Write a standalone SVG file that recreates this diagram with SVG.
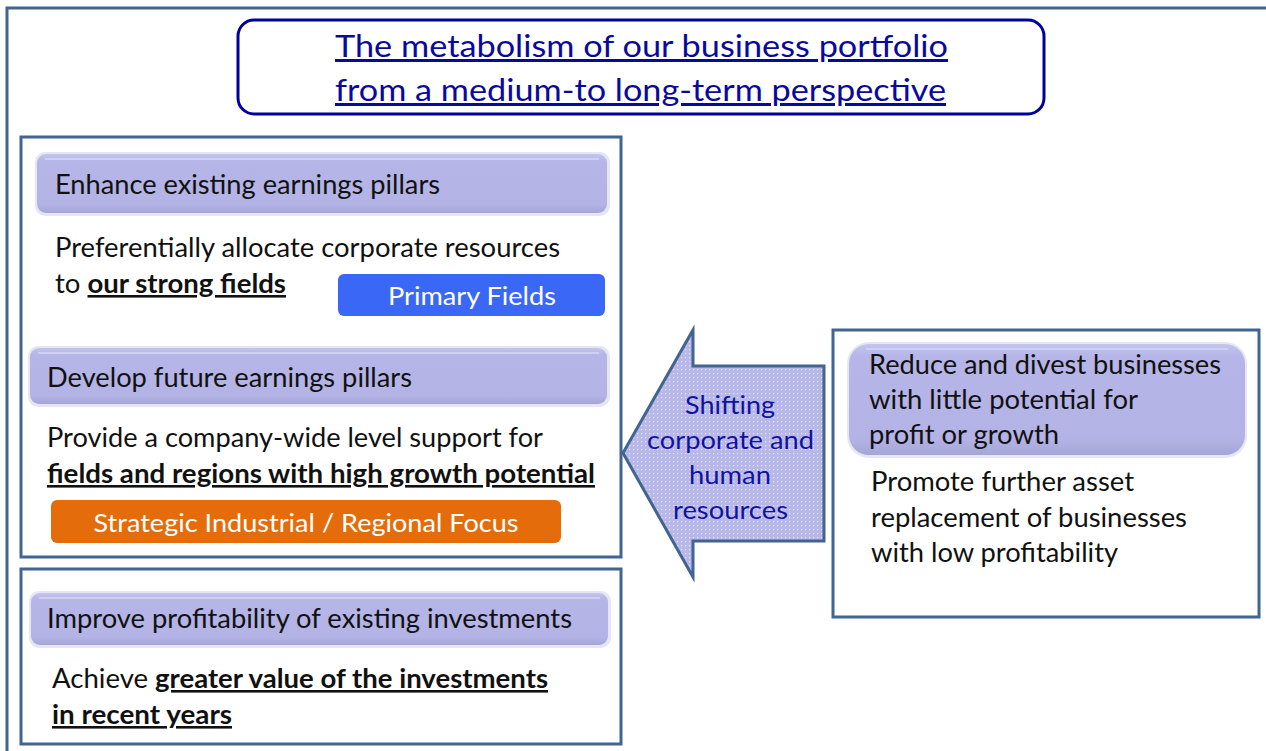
<svg xmlns="http://www.w3.org/2000/svg" width="1266" height="751" viewBox="0 0 1266 751">
<style>
text{font-family:"Lato","Liberation Sans",sans-serif;}
.box{fill:#fff;stroke:#41658F;stroke-width:3;}
.t{font-size:26px;fill:#111;}
.b{font-weight:bold;text-decoration:underline;}
.title{font-size:30px;fill:#0A0A9A;text-decoration:underline;}
.arr{font-size:25.5px;fill:#12129E;text-anchor:middle;}
.wt{font-size:25px;fill:#fff;text-anchor:middle;}
.glow{fill:#DADAF2;opacity:0.7;}
.bar{fill:url(#barg);}
.hl{fill:none;stroke:#CFCFF3;stroke-width:2;}
</style>
<defs>
<linearGradient id="barg" x1="0" y1="0" x2="0" y2="1">
<stop offset="0" stop-color="#C4C4EE"/>
<stop offset="0.12" stop-color="#B5B5E7"/>
<stop offset="0.85" stop-color="#B3B3E5"/>
<stop offset="1" stop-color="#A5A5D6"/>
</linearGradient>
<pattern id="dots" width="4" height="4" patternUnits="userSpaceOnUse">
<rect width="4" height="4" fill="#B8B8E8"/>
<rect x="1" y="1" width="1.2" height="1.2" fill="#E6E6FA"/>
</pattern>
</defs>
<rect width="1266" height="751" fill="#fff"/>
<g id="frame"><rect x="7" y="8" width="1300" height="800" fill="none" stroke="#41658F" stroke-width="3"/></g>
<g id="title">
<rect x="238" y="20" width="806" height="94" rx="16" fill="#fff" stroke="#00009A" stroke-width="3"/>
<text class="title" x="335" y="57" textLength="613" lengthAdjust="spacingAndGlyphs">The metabolism of our business portfolio</text>
<text class="title" x="335" y="101" textLength="611" lengthAdjust="spacingAndGlyphs">from a medium-to long-term perspective</text>
</g>
<g id="enhance-develop">
<rect class="box" x="21" y="137" width="600" height="420"/>
<rect class="glow" x="35" y="152" width="575" height="64" rx="10"/>
<rect class="bar" x="37" y="154" width="570" height="59" rx="9"/>
<line class="hl" x1="45" y1="159" x2="599" y2="159"/>
<text class="t" x="55" y="194" textLength="385" lengthAdjust="spacingAndGlyphs">Enhance existing earnings pillars</text>
<text class="t" x="55" y="257" textLength="505" lengthAdjust="spacingAndGlyphs">Preferentially allocate corporate resources</text>
<text class="t" x="55" y="293" textLength="231" lengthAdjust="spacingAndGlyphs">to <tspan class="b">our strong fields</tspan></text>
<g id="primary-fields">
<rect x="338" y="274" width="267" height="42" rx="6" fill="#3A67F5"/>
<text class="wt" x="472" y="305" textLength="168" lengthAdjust="spacingAndGlyphs">Primary Fields</text>
</g>
<rect class="glow" x="28" y="346" width="582" height="61" rx="10"/>
<rect class="bar" x="30" y="348" width="577" height="56" rx="9"/>
<line class="hl" x1="38" y1="353" x2="599" y2="353"/>
<text class="t" x="47" y="387" textLength="365" lengthAdjust="spacingAndGlyphs">Develop future earnings pillars</text>
<text class="t" x="47" y="447" textLength="496" lengthAdjust="spacingAndGlyphs">Provide a company-wide level support for</text>
<text class="t b" x="47" y="483" textLength="548" lengthAdjust="spacingAndGlyphs">fields and regions with high growth potential</text>
<g id="strategic-focus">
<rect x="51" y="500" width="510" height="43" rx="6" fill="#E46C0A"/>
<text class="wt" x="306" y="532" textLength="425" lengthAdjust="spacingAndGlyphs">Strategic Industrial / Regional Focus</text>
</g>
</g>
<g id="improve">
<rect class="box" x="21" y="569" width="600" height="175"/>
<rect class="glow" x="29" y="591" width="582" height="57" rx="10"/>
<rect class="bar" x="31" y="593" width="577" height="52" rx="9"/>
<line class="hl" x1="39" y1="598" x2="600" y2="598"/>
<text class="t" x="47" y="628" textLength="525" lengthAdjust="spacingAndGlyphs">Improve profitability of existing investments</text>
<text class="t" x="52" y="688" textLength="496" lengthAdjust="spacingAndGlyphs">Achieve <tspan class="b">greater value of the investments</tspan></text>
<text class="t b" x="52" y="724" textLength="180" lengthAdjust="spacingAndGlyphs">in recent years</text>
</g>
<g id="reduce">
<rect class="box" x="833" y="330" width="426" height="287"/>
<rect class="glow" x="847" y="342" width="400" height="116" rx="22"/>
<rect class="bar" x="849" y="344" width="396" height="111" rx="20"/>
<line class="hl" x1="866" y1="349" x2="1228" y2="349"/>
<text class="t" x="869" y="374" textLength="352" lengthAdjust="spacingAndGlyphs">Reduce and divest businesses</text>
<text class="t" x="869" y="409" textLength="269" lengthAdjust="spacingAndGlyphs">with little potential for</text>
<text class="t" x="869" y="444" textLength="190" lengthAdjust="spacingAndGlyphs">profit or growth</text>
<text class="t" x="871" y="491" textLength="263" lengthAdjust="spacingAndGlyphs">Promote further asset</text>
<text class="t" x="871" y="527" textLength="316" lengthAdjust="spacingAndGlyphs">replacement of businesses</text>
<text class="t" x="871" y="562" textLength="247" lengthAdjust="spacingAndGlyphs">with low profitability</text>
</g>
<g id="connectors">
<path d="M623,453 L693,330 L693,366 L824,366 L824,541 L693,541 L693,577 Z" fill="url(#dots)" stroke="#41658F" stroke-width="3" stroke-linejoin="miter"/>
<text class="arr" x="730" y="414" textLength="90" lengthAdjust="spacingAndGlyphs">Shifting</text>
<text class="arr" x="730.5" y="449" textLength="167" lengthAdjust="spacingAndGlyphs">corporate and</text>
<text class="arr" x="730" y="484" textLength="82" lengthAdjust="spacingAndGlyphs">human</text>
<text class="arr" x="730.5" y="519" textLength="115" lengthAdjust="spacingAndGlyphs">resources</text>
</g>
</svg>
